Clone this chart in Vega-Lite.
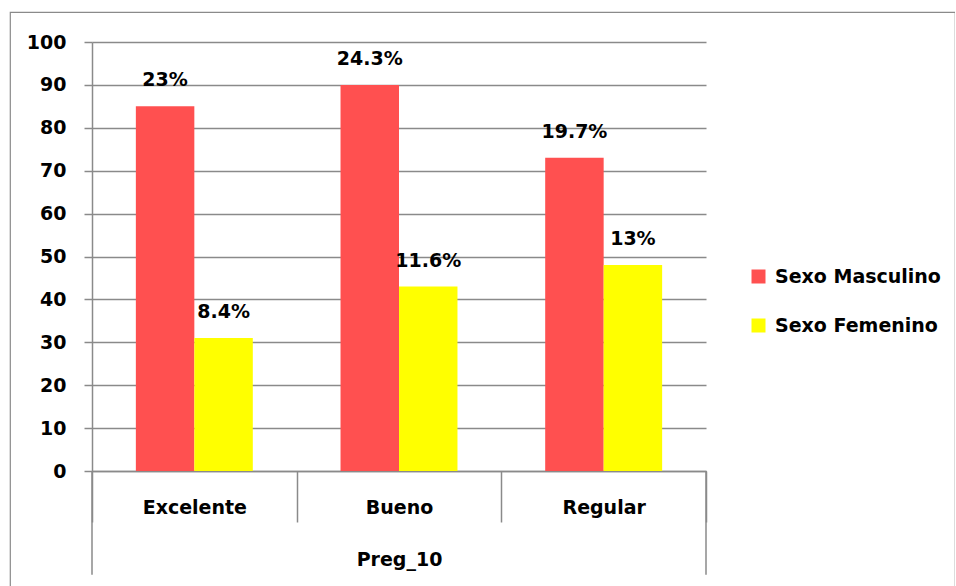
{
  "$schema": "https://vega.github.io/schema/vega-lite/v6.json",
  "width": 945,
  "height": 576,
  "autosize": {"type": "none"},
  "padding": {"left": 10, "top": 12, "right": 0, "bottom": 0},
  "background": "white",
  "config": {
    "view": {"stroke": "#8a8a8a", "strokeWidth": 1.2},
    "font": "DejaVu Sans",
    "axis": {
      "labelFont": "DejaVu Sans", "labelFontWeight": "bold", "labelFontSize": 19, "labelColor": "#000000",
      "titleFont": "DejaVu Sans", "titleFontWeight": "bold", "titleFontSize": 19, "titleColor": "#000000",
      "domainColor": "#8a8a8a", "domainWidth": 1.5, "tickColor": "#8a8a8a", "tickWidth": 1.5,
      "gridColor": "#8a8a8a", "gridWidth": 1.5, "gridOpacity": 1
    }
  },
  "data": {"values": [
    {"cat": "Excelente", "sexo": "Sexo Masculino", "n": 85, "label": "23%"},
    {"cat": "Excelente", "sexo": "Sexo Femenino", "n": 31, "label": "8.4%"},
    {"cat": "Bueno", "sexo": "Sexo Masculino", "n": 90, "label": "24.3%"},
    {"cat": "Bueno", "sexo": "Sexo Femenino", "n": 43, "label": "11.6%"},
    {"cat": "Regular", "sexo": "Sexo Masculino", "n": 73, "label": "19.7%"},
    {"cat": "Regular", "sexo": "Sexo Femenino", "n": 48, "label": "13%"}
  ]},
  "layer": [
    {
      "mark": {"type": "bar"},
      "encoding": {
        "x": {
          "field": "cat", "type": "nominal", "sort": ["Excelente", "Bueno", "Regular"],
          "scale": {"range": [82, 696], "paddingInner": 0, "paddingOuter": 0},
          "axis": {
            "title": "Preg_10", "offset": -117, "tickBand": "extent", "tickSize": 51,
            "labelAngle": 0, "labelBaseline": "middle", "labelPadding": -15, "titlePadding": 28, "grid": false
          }
        },
        "xOffset": {
          "field": "sexo", "type": "nominal", "sort": ["Sexo Masculino", "Sexo Femenino"],
          "scale": {"paddingInner": 0, "paddingOuter": 0.75}
        },
        "y": {
          "field": "n", "type": "quantitative",
          "scale": {"domain": [0, 100], "range": [459, 30], "nice": false},
          "axis": {
            "title": null, "offset": -82, "values": [0, 10, 20, 30, 40, 50, 60, 70, 80, 90, 100],
            "tickSize": 8, "labelPadding": 18, "grid": true
          }
        },
        "color": {
          "field": "sexo", "type": "nominal", "sort": ["Sexo Masculino", "Sexo Femenino"],
          "scale": {"domain": ["Sexo Masculino", "Sexo Femenino"], "range": ["#FF5050", "#FFFF00"]},
          "legend": {
            "title": null, "orient": "none", "legendX": 739, "legendY": 255, "padding": 0,
            "symbolType": "square", "symbolSize": 196, "symbolStrokeWidth": 0,
            "labelFont": "DejaVu Sans", "labelFontWeight": "bold", "labelFontSize": 19, "labelColor": "#000000",
            "labelOffset": 7, "rowPadding": 29, "labelLimit": 400
          }
        }
      }
    },
    {
      "mark": {"type": "text", "dy": -26, "baseline": "middle", "fontWeight": "bold", "fontSize": 19, "font": "DejaVu Sans", "color": "#000000"},
      "encoding": {
        "x": {"field": "cat", "type": "nominal", "sort": ["Excelente", "Bueno", "Regular"]},
        "xOffset": {"field": "sexo", "type": "nominal", "sort": ["Sexo Masculino", "Sexo Femenino"]},
        "y": {"field": "n", "type": "quantitative"},
        "text": {"field": "label"}
      }
    },
    {
      "data": {"values": [{"cat": "Excelente"}]},
      "mark": {"type": "rule", "color": "#8a8a8a", "strokeWidth": 1.5},
      "encoding": {
        "x": {"field": "cat", "type": "nominal", "sort": ["Excelente", "Bueno", "Regular"], "bandPosition": 0},
        "y": {"datum": 0},
        "y2": {"datum": -24.2}
      }
    },
    {
      "data": {"values": [{"cat": "Regular"}]},
      "mark": {"type": "rule", "color": "#8a8a8a", "strokeWidth": 1.5},
      "encoding": {
        "x": {"field": "cat", "type": "nominal", "sort": ["Excelente", "Bueno", "Regular"], "bandPosition": 1},
        "y": {"datum": 0},
        "y2": {"datum": -24.2}
      }
    }
  ]
}
